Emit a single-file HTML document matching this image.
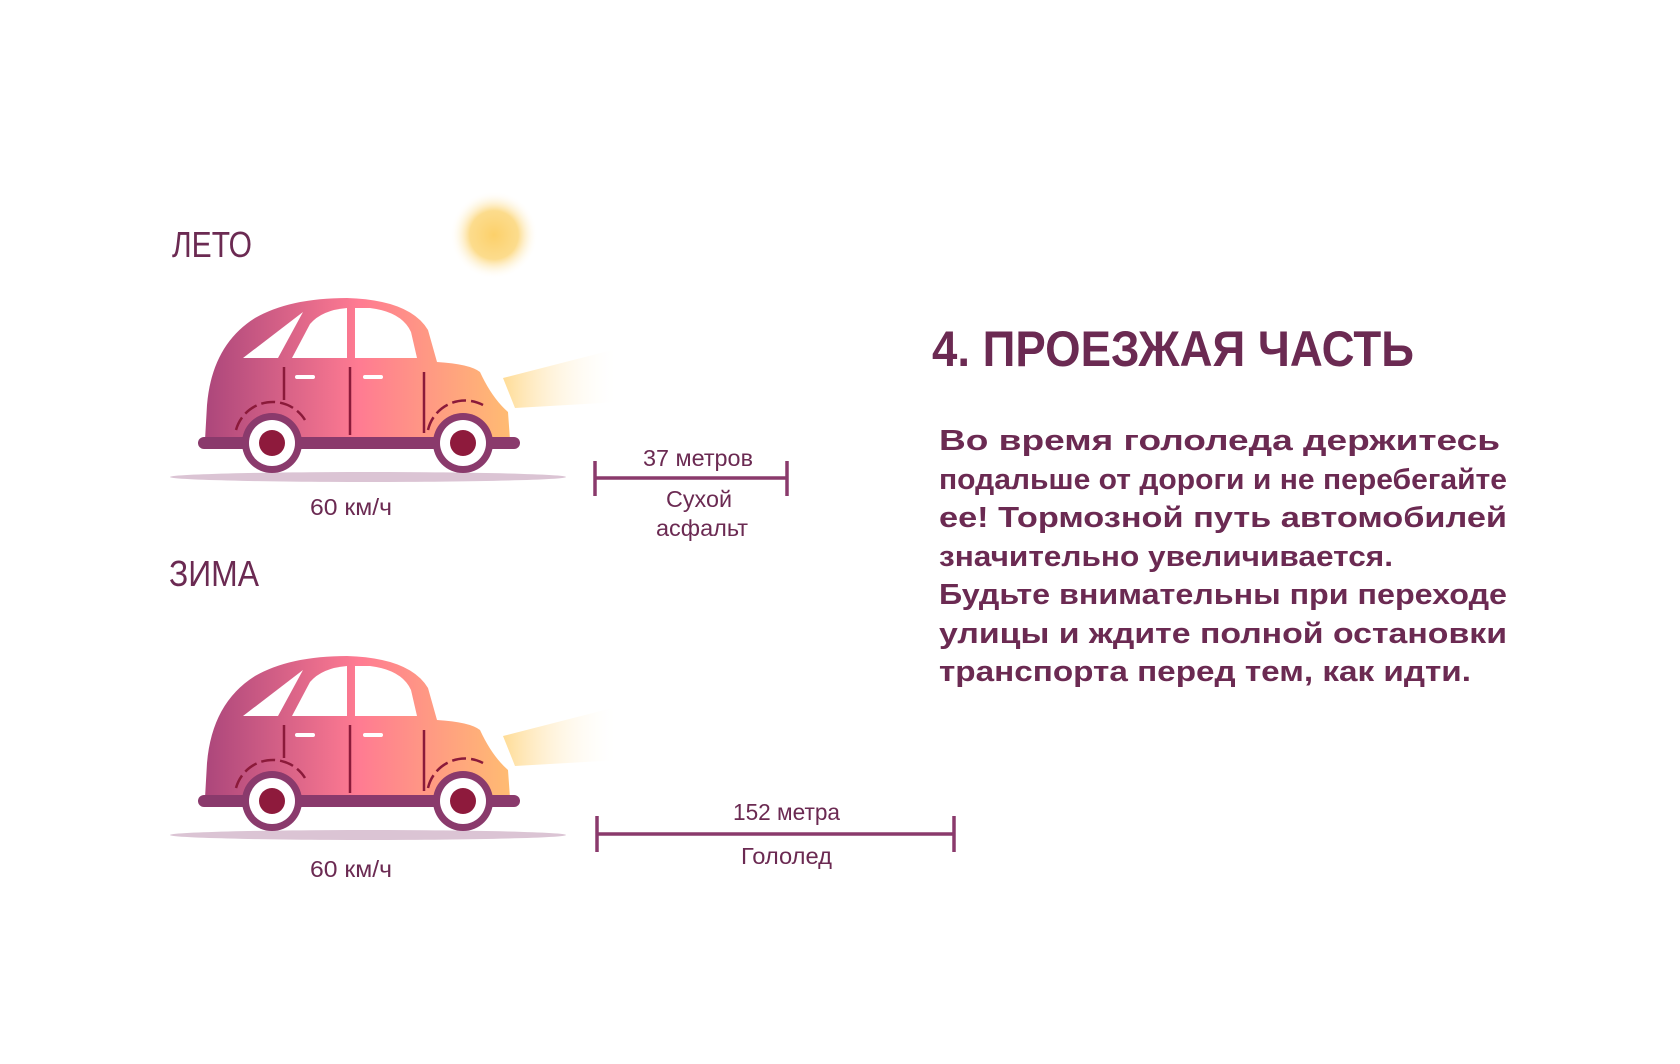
<!DOCTYPE html>
<html><head><meta charset="utf-8"><style>
html,body{margin:0;padding:0;background:#fff;}
svg{display:block;}
text{font-family:"Liberation Sans",sans-serif;fill:#6b2a52;}
</style></head><body>
<svg width="1680" height="1064" viewBox="0 0 1680 1064" xmlns="http://www.w3.org/2000/svg">
<defs>
<linearGradient id="body" x1="198" y1="0" x2="520" y2="0" gradientUnits="userSpaceOnUse">
<stop offset="0" stop-color="#a8447a"/><stop offset="0.5" stop-color="#ff7b92"/><stop offset="1" stop-color="#ffc070"/>
</linearGradient>
<linearGradient id="beam" x1="503" y1="0" x2="620" y2="0" gradientUnits="userSpaceOnUse">
<stop offset="0" stop-color="#ffdc96"/><stop offset="1" stop-color="#fff" stop-opacity="0"/>
</linearGradient>
<radialGradient id="sun"><stop offset="0" stop-color="#fcd06a"/><stop offset="0.55" stop-color="#fcd880" stop-opacity="0.9"/><stop offset="1" stop-color="#fff" stop-opacity="0"/></radialGradient>
<g id="car">
<ellipse cx="368" cy="477" rx="198" ry="5" fill="#dbc4d4"/>
<path d="M503 378 L620 348 L620 402 L515 408 Z" fill="url(#beam)"/>
<path d="M205 440 L207 405 Q212 345 255 318 Q290 298 347 298 Q410 300 428 330 L437 362 Q470 364 480 372 Q492 398 508 412 L510 440 Z" fill="url(#body)"/>
<path d="M243 358 L303 312 L278 358 Z" fill="#fff"/>
<path d="M292 358 L310 324 Q322 310 347 308 L347 358 Z" fill="#fff"/>
<path d="M355 308 L355 358 L417 358 L411 332 Q402 312 370 308 Z" fill="#fff"/>
<path d="M284 367 V400 M350 367 V435 M424 372 V433" stroke="#8b1a3a" stroke-width="2.5"/>
<path d="M297 377 H313 M365 377 H381" stroke="#fff" stroke-width="4" stroke-linecap="round"/>
<path d="M236 430 A38 38 0 0 1 305 420" fill="none" stroke="#8b1a3a" stroke-width="2.5" stroke-dasharray="14 5"/>
<path d="M428 430 A38 38 0 0 1 483 405" fill="none" stroke="#8b1a3a" stroke-width="2.5" stroke-dasharray="14 5"/>
<line x1="204" y1="443" x2="514" y2="443" stroke="#8a3a6c" stroke-width="12" stroke-linecap="round"/>
<circle cx="272" cy="443" r="30" fill="#8a3a6c"/><circle cx="272" cy="443" r="23" fill="#fff"/><circle cx="272" cy="443" r="13" fill="#8e1a3c"/>
<circle cx="463" cy="443" r="30" fill="#8a3a6c"/><circle cx="463" cy="443" r="23" fill="#fff"/><circle cx="463" cy="443" r="13" fill="#8e1a3c"/>
</g>
</defs>
<circle cx="494" cy="235" r="44" fill="url(#sun)"/>
<use href="#car"/>
<use href="#car" y="358"/>
<text x="172" y="257" font-size="36" textLength="80" lengthAdjust="spacingAndGlyphs">ЛЕТО</text>
<text x="169" y="586" font-size="36" textLength="90" lengthAdjust="spacingAndGlyphs">ЗИМА</text>
<text x="310" y="515" font-size="23" textLength="82" lengthAdjust="spacingAndGlyphs">60 км/ч</text>
<text x="310" y="877" font-size="23" textLength="82" lengthAdjust="spacingAndGlyphs">60 км/ч</text>
<g stroke="#8a3a6c" stroke-width="3.5">
<line x1="595" y1="478" x2="787" y2="478"/><line x1="595" y1="461" x2="595" y2="496"/><line x1="787" y1="461" x2="787" y2="496"/>
<line x1="597" y1="834" x2="954" y2="834"/><line x1="597" y1="816" x2="597" y2="852"/><line x1="954" y1="816" x2="954" y2="852"/>
</g>
<text x="643" y="466" font-size="23" textLength="110" lengthAdjust="spacingAndGlyphs">37 метров</text>
<text x="666" y="507" font-size="23" textLength="66" lengthAdjust="spacingAndGlyphs">Сухой</text>
<text x="656" y="536" font-size="23" textLength="92" lengthAdjust="spacingAndGlyphs">асфальт</text>
<text x="733" y="820" font-size="23" textLength="107" lengthAdjust="spacingAndGlyphs">152 метра</text>
<text x="741" y="864" font-size="23" textLength="91" lengthAdjust="spacingAndGlyphs">Гололед</text>
<text x="932" y="366" font-size="50" font-weight="bold" textLength="482" lengthAdjust="spacingAndGlyphs">4. ПРОЕЗЖАЯ ЧАСТЬ</text>
<g font-size="29" font-weight="bold">
<text x="939" y="450" textLength="561" lengthAdjust="spacingAndGlyphs">Во время гололеда держитесь</text>
<text x="939" y="489" textLength="568" lengthAdjust="spacingAndGlyphs">подальше от дороги и не перебегайте</text>
<text x="939" y="527" textLength="568" lengthAdjust="spacingAndGlyphs">ее!  Тормозной  путь  автомобилей</text>
<text x="939" y="566" textLength="454" lengthAdjust="spacingAndGlyphs">значительно увеличивается.</text>
<text x="939" y="604" textLength="568" lengthAdjust="spacingAndGlyphs">Будьте внимательны при переходе</text>
<text x="939" y="643" textLength="568" lengthAdjust="spacingAndGlyphs">улицы  и  ждите  полной  остановки</text>
<text x="939" y="681" textLength="532" lengthAdjust="spacingAndGlyphs">транспорта перед тем, как идти.</text>
</g>
</svg>
</body></html>
